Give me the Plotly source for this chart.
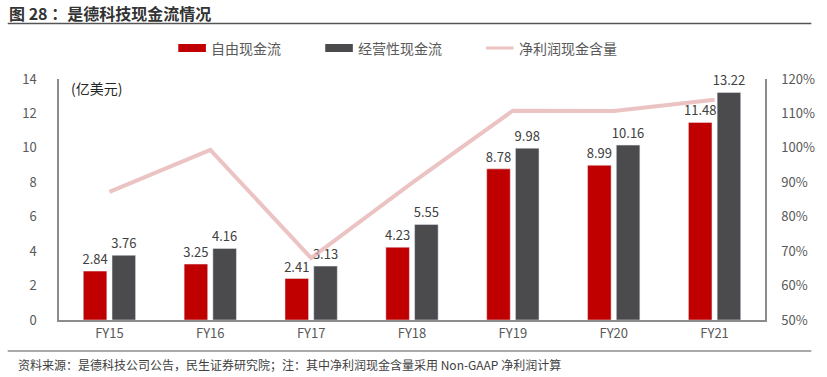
import plotly.graph_objects as go

categories = ["FY15", "FY16", "FY17", "FY18", "FY19", "FY20", "FY21"]
free_cf = [2.84, 3.25, 2.41, 4.23, 8.78, 8.99, 11.48]
op_cf = [3.76, 4.16, 3.13, 5.55, 9.98, 10.16, 13.22]
cash_ratio = [0.872, 0.994, 0.68, 0.898, 1.108, 1.107, 1.14]
left_ticks = [0, 2, 4, 6, 8, 10, 12, 14]
right_ticks = [0.5, 0.6, 0.7, 0.8, 0.9, 1.0, 1.1, 1.2]

names = ["自由现金流", "经营性现金流", "净利润现金含量"]
RED = "#C00000"
GRAY = "#4B4B4D"
PINK = "rgba(226,170,170,0.7)"
FONT = "Noto Sans CJK SC"
TICKC = "#595959"

W, H = 827, 377
ML, MR, MT, MB = 59, 52, 79, 57

fig = go.Figure()
fig.add_trace(go.Bar(x=categories, y=free_cf, name=names[0], marker_color=RED,
                     text=[f"{v:.2f}" for v in free_cf], textposition="outside",
                     constraintext="none",
                     textfont=dict(size=13, color="#404040", family=FONT),
                     cliponaxis=False, showlegend=False))
fig.add_trace(go.Bar(x=categories, y=op_cf, name=names[1], marker_color=GRAY,
                     text=[f"{v:.2f}" for v in op_cf], textposition="outside",
                     constraintext="none",
                     textfont=dict(size=13, color="#404040", family=FONT),
                     cliponaxis=False, showlegend=False))
fig.add_trace(go.Scatter(x=categories, y=cash_ratio, name=names[2], mode="lines",
                         line=dict(color=PINK, width=4), yaxis="y2", showlegend=False))

pw = W - ML - MR
def px2paper_x(px):
    return (px - ML) / pw
ph = H - MT - MB
def px2paper_y(py):
    return (H - MB - py) / ph

shapes = []
annotations = []
# manual legend
leg_x = [180, 329, 492]
leg_y = 48
for i, (nm, xs) in enumerate(zip(names, leg_x)):
    x0 = px2paper_x(xs)
    x1 = px2paper_x(xs + 28)
    if i < 2:
        shapes.append(dict(type="rect", xref="paper", yref="paper", x0=x0, x1=x1,
                           y0=px2paper_y(leg_y + 4), y1=px2paper_y(leg_y - 4),
                           fillcolor=[RED, GRAY][i], line=dict(width=0)))
    else:
        shapes.append(dict(type="line", xref="paper", yref="paper", x0=x0, x1=x1,
                           y0=px2paper_y(leg_y), y1=px2paper_y(leg_y),
                           line=dict(color=PINK, width=3)))
    annotations.append(dict(text=nm, xref="paper", yref="paper", x=px2paper_x(xs + 31),
                            y=px2paper_y(leg_y), xanchor="left", yanchor="middle",
                            showarrow=False, font=dict(size=14, color=TICKC, family=FONT)))

# title & lines
annotations.append(dict(text="<b>图 28 ：是德科技现金流情况</b>", xref="paper", yref="paper",
                        x=px2paper_x(6), y=px2paper_y(13), xanchor="left", yanchor="middle",
                        showarrow=False, font=dict(size=16, color="#333333", family=FONT)))
shapes.append(dict(type="line", xref="paper", yref="paper", x0=px2paper_x(7), x1=px2paper_x(822),
                   y0=px2paper_y(23.5), y1=px2paper_y(23.5), line=dict(color="#555555", width=1.5)))
shapes.append(dict(type="line", xref="paper", yref="paper", x0=px2paper_x(7), x1=px2paper_x(822),
                   y0=px2paper_y(351), y1=px2paper_y(351), line=dict(color="#555555", width=1.2)))
annotations.append(dict(text="资料来源：是德科技公司公告，民生证券研究院；注：其中净利润现金含量采用 Non-GAAP 净利润计算",
                        xref="paper", yref="paper", x=px2paper_x(15), y=px2paper_y(364),
                        xanchor="left", yanchor="middle", showarrow=False,
                        font=dict(size=12, color="#404040", family=FONT)))
annotations.append(dict(text="(亿美元)", xref="paper", yref="paper", x=px2paper_x(69), y=px2paper_y(88),
                        xanchor="left", yanchor="middle", showarrow=False,
                        font=dict(size=14, color="#262626", family=FONT)))

fig.update_layout(
    width=W, height=H,
    margin=dict(l=ML, r=MR, t=MT, b=MB),
    paper_bgcolor="white", plot_bgcolor="white",
    barmode="group", bargap=0.43, bargroupgap=0.18,
    font=dict(family=FONT, color=TICKC),
    shapes=shapes, annotations=annotations,
    xaxis=dict(showgrid=False, showline=True, linecolor="#8C8C8C", linewidth=2,
               ticks="", tickfont=dict(size=13, color=TICKC)),
    yaxis=dict(range=[0, 14], tickvals=left_ticks, showgrid=False, zeroline=False,
               showline=True, linecolor="#8C8C8C", linewidth=1.5, ticks="",
               tickfont=dict(size=13, color=TICKC), ticklabelstandoff=18),
    yaxis2=dict(range=[0.5, 1.2], tickvals=right_ticks, tickformat=".0%", overlaying="y",
                side="right", showgrid=False, zeroline=False, showline=True,
                linecolor="#8C8C8C", linewidth=1.5, ticks="",
                tickfont=dict(size=13, color=TICKC), ticklabelstandoff=12),
)

fig.write_html("out.html", config={"displayModeBar": False},
               post_script="document.body.style.margin='0px';document.body.style.overflow='hidden';")
